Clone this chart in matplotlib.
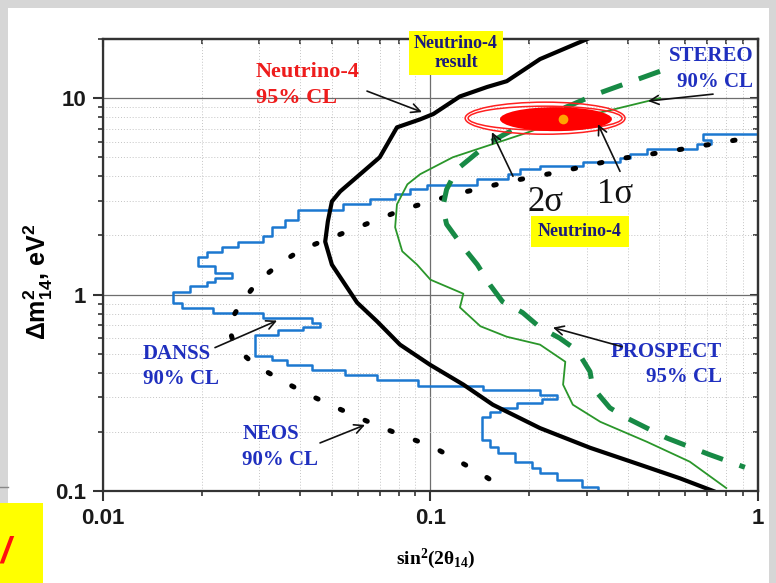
import numpy as np
import matplotlib
matplotlib.use("Agg")
import matplotlib.pyplot as plt
from matplotlib.patches import Ellipse, Rectangle
from matplotlib.lines import Line2D
from matplotlib.ticker import FuncFormatter, NullFormatter

plt.rcParams['font.family'] = 'Liberation Sans'
plt.rcParams['font.weight'] = 'bold'
plt.rcParams['mathtext.default'] = 'regular'

# sin^2(2theta_14) vs dm^2_14 (eV^2)

# Neutrino-4 95% CL (thick black)
n4_sin2 = [0.301, 0.216, 0.171, 0.149, 0.123, 0.102, 0.093, 0.079, 0.070, 0.061, 0.053,
           0.050, 0.0486, 0.0477, 0.050, 0.0597, 0.0687, 0.0807, 0.0995, 0.126, 0.155,
           0.216, 0.307, 0.437, 0.578, 0.730]
n4_dm2 = [20.0, 15.8, 12.2, 11.4, 10.2, 8.3, 7.8, 7.1, 5.0, 4.1, 3.35,
          2.98, 2.36, 1.86, 1.42, 0.91, 0.73, 0.556, 0.44, 0.348, 0.275,
          0.209, 0.166, 0.136, 0.116, 0.100]

# STEREO 90% CL (thin green)
stereo_sin2 = [0.502, 0.346, 0.252, 0.191, 0.139, 0.117, 0.093, 0.085, 0.079, 0.078,
               0.082, 0.091, 0.100, 0.126, 0.123, 0.142, 0.171, 0.216, 0.258, 0.254,
               0.272, 0.330, 0.458, 0.619, 0.800]
stereo_dm2 = [10.0, 8.6, 7.7, 6.55, 5.5, 5.0, 4.1, 3.64, 2.88, 2.2,
              1.66, 1.42, 1.19, 1.01, 0.86, 0.69, 0.61, 0.556, 0.455, 0.348,
              0.275, 0.225, 0.178, 0.141, 0.1035]

# PROSPECT 95% CL (dashed green)
prospect_sin2 = [0.502, 0.322, 0.272, 0.1875, 0.152, 0.1205, 0.112, 0.109, 0.112, 0.126,
                 0.139, 0.152, 0.166, 0.191, 0.216, 0.248, 0.280, 0.307, 0.313, 0.353,
                 0.398, 0.527, 0.713, 0.912]
prospect_dm2 = [13.7, 10.5, 9.3, 7.2, 5.97, 4.34, 3.43, 2.78, 2.28, 1.74,
                1.42, 1.12, 0.92, 0.81, 0.68, 0.60, 0.52, 0.405, 0.336, 0.265,
                0.235, 0.186, 0.153, 0.132]

# NEOS 90% CL (black dots)
neos_sin2 = [0.851, 0.5385, 0.371, 0.252, 0.175, 0.1188, 0.0824, 0.058, 0.0405, 0.0347,
             0.0297, 0.0266, 0.0241, 0.0253, 0.0291, 0.0347, 0.0414, 0.0493, 0.0701,
             0.1018, 0.1416, 0.1665]
neos_dm2 = [6.11, 5.37, 4.89, 4.24, 3.77, 3.24, 2.71, 2.15, 1.70, 1.44,
            1.165, 0.921, 0.703, 0.537, 0.44, 0.369, 0.316, 0.275, 0.212,
            0.1677, 0.1235, 0.1036]

# DANSS 90% CL (blue staircase)
danss_sin2 = [1.0, 0.68, 0.72, 0.65, 0.458, 0.407, 0.379, 0.292, 0.216, 0.188, 0.172,
              0.139, 0.0976, 0.0866, 0.0779, 0.0654, 0.054, 0.0394, 0.036, 0.0328, 0.0308,
              0.0258, 0.0231, 0.0208, 0.0195, 0.022, 0.0248, 0.022, 0.0208, 0.0184, 0.0164,
              0.0174, 0.0217, 0.0308, 0.0435, 0.046, 0.0408, 0.0342, 0.0291, 0.0328, 0.0365,
              0.0435, 0.0548, 0.0687, 0.0916, 0.1447, 0.216, 0.2434, 0.219, 0.1837, 0.163,
              0.152, 0.1437, 0.152, 0.1607, 0.1811, 0.2041, 0.216, 0.2434, 0.29, 0.3246]
danss_dm2 = [6.55, 6.11, 5.83, 5.49, 5.18, 4.94, 4.72, 4.50, 4.34, 4.09, 3.86,
             3.60, 3.43, 3.24, 3.05, 2.88, 2.71, 2.39, 2.22, 1.98, 1.86,
             1.74, 1.64, 1.545, 1.39, 1.295, 1.22, 1.165, 1.10, 1.036, 0.91,
             0.858, 0.809, 0.763, 0.72, 0.687, 0.663, 0.625, 0.488, 0.466, 0.44,
             0.414, 0.391, 0.369, 0.343, 0.327, 0.309, 0.295, 0.281, 0.265, 0.253,
             0.2385, 0.182, 0.1677, 0.156, 0.1406, 0.131, 0.1235, 0.1138, 0.1048, 0.1]

# Neutrino-4 result regions (extent in sin2 and dm2) and best fit
two_sigma_sin2 = (0.1276, 0.3926)
two_sigma_dm2 = (6.55, 9.54)
two_sigma_in_sin2 = (0.1303, 0.3846)
two_sigma_in_dm2 = (6.87, 9.10)
one_sigma_sin2 = (0.163, 0.358)
one_sigma_dm2 = (6.79, 9.0)
best_fit = (0.254, 7.8)

BLUE_TXT = '#1f2fbf'
SERIF = 'Liberation Serif'

fig = plt.figure(figsize=(7.76, 5.83), dpi=100)
fig.patch.set_facecolor('#d6d6d6')
fig.add_artist(Rectangle((8/776, 0), 761/776, 575/583, transform=fig.transFigure,
                         facecolor='white', edgecolor='none', zorder=-10))
fig.add_artist(Rectangle((0, 0), 43/776, 80/583, transform=fig.transFigure,
                         facecolor='#ffff00', edgecolor='none', zorder=-5))
fig.add_artist(Line2D([0, 8/776], [96/583, 96/583], transform=fig.transFigure,
                      color='#888888', lw=1))
fig.text(0.007, 0.052, '/', color='#ff1010', size=26, style='italic',
         ha='center', va='center')

ax = fig.add_axes([0.1327, 0.1578, 0.8441, 0.7753])
ax.set_xscale('log')
ax.set_yscale('log')
ax.set_xlim(0.01, 1)
ax.set_ylim(0.1, 20)

ax.set_axisbelow(True)
ax.grid(True, which='major', color='#6e6e6e', lw=0.9)
ax.grid(True, which='minor', color='#c4c4c4', lw=0.7, ls=(0, (1, 2)))

ax.plot(danss_sin2, danss_dm2, drawstyle='steps-post', color='#1c78d0', lw=1.8)
ax.plot(neos_sin2, neos_dm2, color='black', lw=3.6, ls=(0, (0.5, 4.9)),
        dash_capstyle='round')
ax.plot(prospect_sin2, prospect_dm2, color='#178a45', lw=3.6, ls=(0, (4.5, 3.5)))
ax.plot(stereo_sin2, stereo_dm2, color='#2a962a', lw=1.3)
ax.plot(n4_sin2, n4_dm2, color='black', lw=3.0, solid_joinstyle='round')

# ellipses drawn in log space so they look like the original
log_tr = ax.transLimits + ax.transAxes


def log_ellipse(xr, yr, **kw):
    lx = np.log10(xr)
    ly = np.log10(yr)
    e = Ellipse(((lx[0] + lx[1]) / 2, (ly[0] + ly[1]) / 2), lx[1] - lx[0], ly[1] - ly[0],
                transform=log_tr, **kw)
    ax.add_patch(e)


log_ellipse(two_sigma_sin2, two_sigma_dm2, facecolor='none', edgecolor='#ff2020', lw=1.1, zorder=4)
log_ellipse(two_sigma_in_sin2, two_sigma_in_dm2, facecolor='none', edgecolor='#ff2020', lw=1.1, zorder=4)
log_ellipse(one_sigma_sin2, one_sigma_dm2, facecolor='#ff0000', edgecolor='none', zorder=4)
ax.plot(best_fit[0], best_fit[1], 'o', ms=7, color='#ffa500', mec='none', zorder=5)

# ticks
fmt = FuncFormatter(lambda v, _: f'{v:g}')
ax.xaxis.set_major_formatter(fmt)
ax.yaxis.set_major_formatter(fmt)
ax.xaxis.set_minor_formatter(NullFormatter())
ax.yaxis.set_minor_formatter(NullFormatter())
ax.tick_params(which='major', direction='out', length=7, width=1.5, color='#333333',
               labelsize=16, labelcolor='#1a1a1a', pad=5, top=False, right=False)
ax.tick_params(which='minor', direction='out', length=3.5, width=1.2, color='#333333',
               top=False, right=False)
for s in ax.spines.values():
    s.set_linewidth(1.6)
    s.set_color('#333333')

secx = ax.secondary_xaxis('top')
secy = ax.secondary_yaxis('right')
for sec, axis in ((secx, secx.xaxis), (secy, secy.yaxis)):
    axis.set_major_formatter(NullFormatter())
    axis.set_minor_formatter(NullFormatter())
    sec.tick_params(which='major', direction='in', length=6, width=1.5, color='#333333')
    sec.tick_params(which='minor', direction='in', length=3.5, width=1.2, color='#333333')
    for s in sec.spines.values():
        s.set_linewidth(1.6)
        s.set_color('#333333')

ax.set_xlabel('sin$^2$(2θ$_{14}$)', family=SERIF, weight='bold', size=14)
ax.xaxis.set_label_coords(0.508, -0.123)
ax.set_ylabel('Δm$^2_{14}$, eV$^2$', size=18, weight='bold')
ax.yaxis.set_label_coords(-0.074, 0.463)

# labels
ax.text(0.0293, 11.65, 'Neutrino-4\n95% CL', color='#ee1c1c', family=SERIF, weight='bold',
        size=16, ha='left', va='center', linespacing=1.35)
ax.text(0.1197, 16.97, 'Neutrino-4\nresult', color='#1a1a7a', family=SERIF, weight='bold',
        size=13, ha='center', va='center', linespacing=1.08, zorder=6,
        bbox=dict(facecolor='#ffff00', edgecolor='none', pad=3.5))
ax.text(0.966, 14.06, 'STEREO\n90% CL', color=BLUE_TXT, family=SERIF, weight='bold',
        size=15, ha='right', va='center', linespacing=1.38)
ax.text(0.01325, 0.43, 'DANSS\n90% CL', color=BLUE_TXT, family=SERIF, weight='bold',
        size=15, ha='left', va='center', linespacing=1.38)
ax.text(0.0266, 0.1677, 'NEOS\n90% CL', color=BLUE_TXT, family=SERIF, weight='bold',
        size=15, ha='left', va='center', linespacing=1.38)
ax.text(0.776, 0.44, 'PROSPECT\n95% CL', color=BLUE_TXT, family=SERIF, weight='bold',
        size=15, ha='right', va='center', linespacing=1.38)
ax.text(0.2237, 2.94, '2σ', color='#111111', family=SERIF, weight='normal', size=25,
        ha='center', va='center')
ax.text(0.366, 3.24, '1σ', color='#111111', family=SERIF, weight='normal', size=25,
        ha='center', va='center')
ax.text(0.2862, 2.097, 'Neutrino-4', color='#1a1a7a', family=SERIF, weight='bold',
        size=13, ha='center', va='center', zorder=6,
        bbox=dict(facecolor='#ffff00', edgecolor='none', pad=5))

# arrows: (start, tip)
arrows = [((0.064, 10.86), (0.0942, 8.49)),
          ((0.1786, 4.0), (0.154, 6.71)),
          ((0.379, 4.24), (0.3246, 7.37)),
          ((0.729, 10.48), (0.4617, 9.66)),
          ((0.02198, 0.537), (0.034, 0.737)),
          ((0.046, 0.1757), (0.0631, 0.217)),
          ((0.3845, 0.543), (0.2366, 0.679))]
for start, tip in arrows:
    ax.annotate('', xy=tip, xytext=start,
                arrowprops=dict(arrowstyle='->', color='#111111', lw=1.2,
                                mutation_scale=16, shrinkA=0, shrinkB=0), zorder=6)

fig.savefig('out.png', dpi=100)
